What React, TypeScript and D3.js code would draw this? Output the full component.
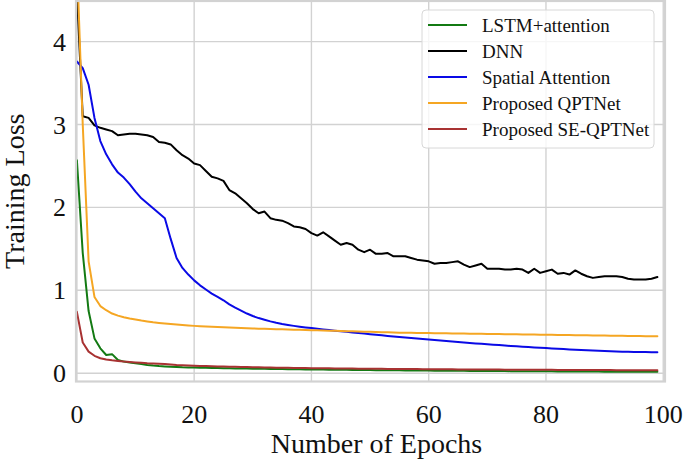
import React from "react";
import * as d3 from "d3";

const seriesNames = ["LSTM+attention", "DNN", "Spatial Attention", "Proposed QPTNet", "Proposed SE-QPTNet"];
const seriesColors = ["#137a13", "#000000", "#0a0ae6", "#f5a623", "#a83232"];

const lstmAttention = [2.57,1.45,0.75,0.42,0.30,0.22,0.23,0.16,0.14,0.13, 0.12,0.11,0.10,0.092,0.086,0.082,0.079,0.076,0.072,0.07, 0.068,0.066,0.065,0.063,0.062,0.06,0.059,0.058,0.057,0.056, 0.055,0.054,0.053,0.052,0.051,0.05,0.049,0.048,0.047,0.046, 0.045,0.045,0.044,0.043,0.042,0.041,0.041,0.04,0.039,0.038, 0.038,0.037,0.036,0.036,0.035,0.035,0.034,0.033,0.033,0.032, 0.032,0.031,0.031,0.03,0.03,0.029,0.029,0.028,0.028,0.027, 0.027,0.026,0.026,0.026,0.025,0.025,0.024,0.024,0.024,0.023, 0.023,0.023,0.022,0.022,0.021,0.021,0.021,0.02,0.02,0.02, 0.019,0.019,0.019,0.018,0.018,0.018,0.017,0.017,0.017,0.017];

const dnn = [4.6,3.1,3.08,2.99,2.96,2.94,2.92,2.87,2.88,2.89, 2.89,2.88,2.87,2.85,2.79,2.78,2.76,2.69,2.63,2.59, 2.53,2.51,2.44,2.37,2.35,2.32,2.21,2.17,2.11,2.05, 1.98,1.93,1.95,1.87,1.85,1.84,1.81,1.77,1.76,1.74, 1.69,1.66,1.70,1.65,1.60,1.55,1.57,1.55,1.49,1.46, 1.49,1.44,1.44,1.45,1.41,1.41,1.41,1.39,1.37,1.36, 1.35,1.32,1.33,1.33,1.34,1.35,1.31,1.28,1.30,1.32, 1.26,1.26,1.26,1.25,1.25,1.26,1.25,1.21,1.26,1.21, 1.23,1.25,1.20,1.21,1.19,1.24,1.20,1.17,1.15,1.16, 1.17,1.17,1.17,1.16,1.14,1.13,1.13,1.13,1.14,1.16];

const spatialAttention = [3.76,3.68,3.48,3.08,2.80,2.64,2.52,2.42,2.36,2.28, 2.19,2.11,2.05,1.99,1.93,1.87,1.62,1.39,1.27,1.19, 1.12,1.06,1.01,0.96,0.92,0.88,0.83,0.79,0.755,0.72, 0.69,0.665,0.645,0.625,0.608,0.594,0.582,0.571,0.561,0.552, 0.544,0.536,0.528,0.52,0.513,0.506,0.499,0.492,0.485,0.478, 0.471,0.464,0.457,0.45,0.443,0.437,0.431,0.425,0.419,0.413, 0.407,0.401,0.395,0.389,0.383,0.377,0.371,0.365,0.359,0.354, 0.349,0.344,0.339,0.334,0.329,0.324,0.319,0.315,0.311,0.307, 0.303,0.299,0.295,0.291,0.287,0.283,0.279,0.276,0.273,0.270, 0.267,0.264,0.262,0.260,0.258,0.257,0.256,0.255,0.254,0.254];

const qptnet = [5.0,3.0,1.35,0.92,0.81,0.76,0.72,0.695,0.675,0.66, 0.647,0.635,0.625,0.615,0.607,0.60,0.593,0.587,0.581,0.576, 0.571,0.567,0.563,0.559,0.556,0.553,0.55,0.547,0.544,0.541, 0.539,0.537,0.535,0.533,0.531,0.529,0.527,0.525,0.523,0.521, 0.519,0.517,0.515,0.513,0.511,0.509,0.507,0.505,0.503,0.501, 0.499,0.497,0.495,0.493,0.491,0.489,0.488,0.487,0.486,0.485, 0.484,0.483,0.482,0.481,0.480,0.479,0.478,0.477,0.476,0.475, 0.474,0.473,0.472,0.471,0.470,0.469,0.468,0.467,0.466,0.465, 0.464,0.463,0.462,0.461,0.46,0.459,0.458,0.457,0.456,0.455, 0.454,0.453,0.452,0.451,0.45,0.449,0.448,0.447,0.446,0.446];

const seQptnet = [0.74,0.37,0.26,0.21,0.18,0.165,0.155,0.148,0.14,0.135, 0.13,0.125,0.12,0.117,0.113,0.11,0.105,0.10,0.097,0.094, 0.091,0.088,0.086,0.084,0.082,0.08,0.078,0.077,0.075,0.074, 0.072,0.071,0.07,0.068,0.067,0.066,0.065,0.064,0.063,0.062, 0.061,0.06,0.06,0.059,0.058,0.057,0.057,0.056,0.055,0.054, 0.054,0.053,0.053,0.052,0.052,0.051,0.051,0.05,0.05,0.049, 0.049,0.048,0.048,0.047,0.047,0.046,0.046,0.046,0.045,0.045, 0.045,0.044,0.044,0.043,0.043,0.043,0.042,0.042,0.042,0.041, 0.041,0.041,0.04,0.04,0.04,0.039,0.039,0.039,0.038,0.038, 0.038,0.038,0.037,0.037,0.037,0.036,0.036,0.036,0.036,0.035];

const seriesValues = [lstmAttention, dnn, spatialAttention, qptnet, seQptnet];
const xTicks = [0, 20, 40, 60, 80, 100];
const yTicks = [0, 1, 2, 3, 4];
const xLabel = "Number of Epochs";
const yLabel = "Training Loss";

const W = 685;
const H = 461;
const FONT = "'Liberation Serif', 'Times New Roman', serif";

export default function App() {
  const x = d3.scaleLinear().domain([-0.15, 100.3]).range([76, 665]);
  const y = d3.scaleLinear().domain([-0.1, 4.49]).range([381.5, 1]);
  const [x0, x1] = x.range();
  const [y0, y1] = y.range();
  const line = d3
    .line<number>()
    .x((_, i) => x(i))
    .y((d) => y(d));

  const grid = "#d2d2d2";
  const legX = 422;
  const legY = 10;
  const rowH = 26;

  return (
    <svg
      width={W}
      height={H}
      style={{ position: "absolute", left: 0, top: 0, background: "#fff" }}
      fontFamily={FONT}
    >
      <defs>
        <clipPath id="plot">
          <rect x={x0} y={y1} width={x1 - x0} height={y0 - y1} />
        </clipPath>
      </defs>
      {xTicks.map((t) => (
        <line key={"gx" + t} x1={x(t)} x2={x(t)} y1={y1} y2={y0} stroke={grid} strokeWidth={1.4} />
      ))}
      {yTicks.map((t) => (
        <line key={"gy" + t} x1={x0} x2={x1} y1={y(t)} y2={y(t)} stroke={grid} strokeWidth={1.4} />
      ))}
      <g clipPath="url(#plot)" fill="none" strokeLinejoin="round" strokeLinecap="round">
        {seriesValues.map((vals, k) => (
          <path key={k} d={line(vals) || ""} stroke={seriesColors[k]} strokeWidth={2} />
        ))}
      </g>
      <rect x={x0} y={y1} width={x1 - x0} height={y0 - y1} fill="none" stroke={grid} strokeWidth={2.2} />
      {xTicks.map((t) => (
        <text key={"tx" + t} x={x(t)} y={423} fontSize={26} textAnchor="middle" fill="#111">
          {t}
        </text>
      ))}
      {yTicks.map((t) => (
        <text key={"ty" + t} x={66} y={y(t) + 9} fontSize={26} textAnchor="end" fill="#111">
          {t}
        </text>
      ))}
      <text x={(x0 + x1) / 2 + 6} y={453} fontSize={28} textAnchor="middle" fill="#111">
        {xLabel}
      </text>
      <text
        transform={`translate(24, ${(y0 + y1) / 2}) rotate(-90)`}
        fontSize={28}
        textAnchor="middle"
        fill="#111"
      >
        {yLabel}
      </text>
      <g>
        <rect
          x={legX}
          y={legY}
          width={232}
          height={138}
          rx={4}
          fill="#fff"
          fillOpacity={0.8}
          stroke="#d8d8d8"
          strokeWidth={1}
        />
        {seriesNames.map((name, k) => (
          <g key={name} transform={`translate(${legX}, ${legY + 15 + k * rowH})`}>
            <line x1={6} x2={45} y1={0} y2={0} stroke={seriesColors[k]} strokeWidth={2} />
            <text x={60} y={6.5} fontSize={19} fill="#111">
              {name}
            </text>
          </g>
        ))}
      </g>
    </svg>
  );
}
